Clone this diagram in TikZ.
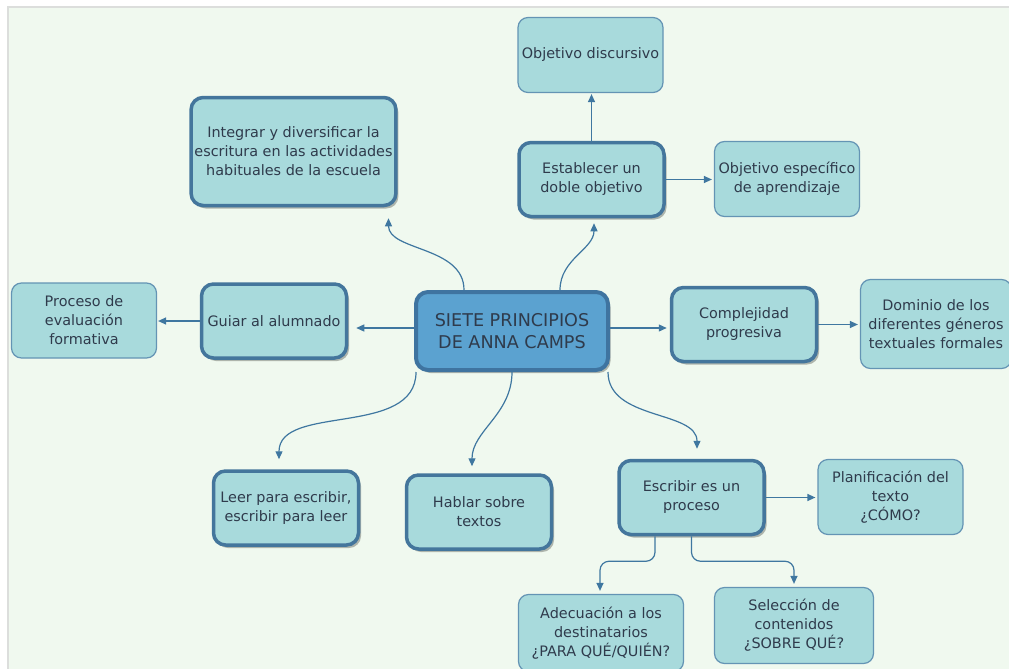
\documentclass[tikz,border=0pt]{standalone}
\usepackage{fontspec}
\setmainfont{DejaVu Sans}
\usepackage{xcolor}
\usepackage{tikz}
\usetikzlibrary{arrows.meta, positioning, shadows}
\definecolor{canvasbg}{HTML}{F0F9EF}
\definecolor{edgegray}{HTML}{DCDEDC}
\definecolor{boxfill}{HTML}{A8DADC}
\definecolor{topicline}{HTML}{44769C}
\definecolor{detailline}{HTML}{6494B4}
\definecolor{corefill}{HTML}{5BA2D0}
\definecolor{coreline}{HTML}{3F74A0}
\definecolor{textc}{HTML}{2F3B4C}
\definecolor{arrowc}{HTML}{3F77A0}
\definecolor{shadowc}{HTML}{AEB5AC}
\tikzset{
    topic/.style={rectangle, draw=topicline, line width=3.5pt, fill=boxfill, rounded corners=12pt, align=center, text=textc, font=\fontsize{14.4}{19}\selectfont, minimum width=145pt, minimum height=74pt, drop shadow={shadow xshift=2.5pt, shadow yshift=-3pt, fill=shadowc, opacity=1}},
    detail/.style={rectangle, draw=detailline, line width=1.2pt, fill=boxfill, rounded corners=10pt, align=center, text=textc, font=\fontsize{14.4}{19}\selectfont, minimum width=145pt, minimum height=75pt},
    core/.style={topic, draw=coreline, fill=corefill, line width=4pt, font=\fontsize{17.6}{22}\selectfont, minimum width=192pt, minimum height=78pt},
    arrow/.style={-{Triangle[length=8pt,width=7pt]}, line width=1.2pt, draw=arrowc}
}
\begin{document}
\begin{tikzpicture}[x=1pt, y=-1pt]
    \useasboundingbox (0,0) rectangle (1009,669);
    \fill [white] (0,0) rectangle (1009,669);
    \fill [canvasbg] (9,8) rectangle (1009,669);
    \draw [edgegray, line width=2pt] (8,669) -- (8,7) -- (1009,7);

    % centro
    \node [core] (camps) at (512,331) {SIETE PRINCIPIOS\\DE ANNA CAMPS};

    % principios
    \node [topic, minimum width=204pt, minimum height=108pt] (integrar) at (293.5,151.5) {Integrar y diversificar la\\escritura en las actividades\\habituales de la escuela};
    \node [topic] (doble) at (591.5,179.5) {Establecer un\\doble objetivo};
    \node [topic] (guiar) at (274,321) {Guiar al alumnado};
    \node [topic] (complej) at (744,324.5) {Complejidad\\progresiva};
    \node [topic] (leer) at (286,508) {Leer para escribir,\\escribir para leer};
    \node [topic] (hablar) at (479,512) {Hablar sobre\\textos};
    \node [topic] (proceso) at (691.5,497.5) {Escribir es un\\proceso};

    % detalles
    \node [detail] (discurs) at (590.5,55) {Objetivo discursivo};
    \node [detail] (especif) at (787,179) {Objetivo específico\\de aprendizaje};
    \node [detail] (evalua) at (84,320.5) {Proceso de\\evaluación\\formativa};
    \node [detail, minimum width=151pt, minimum height=89pt] (generos) at (936,324) {Dominio de los\\diferentes géneros\\textuales formales};
    \node [detail] (planif) at (890.5,497) {Planificación del\\texto\\¿CÓMO?};
    \node [detail, minimum width=165pt, minimum height=77pt] (adecua) at (601,633) {Adecuación a los\\destinatarios\\¿PARA QUÉ/QUIÉN?};
    \node [detail, minimum width=159pt, minimum height=76pt] (selecc) at (794,625.5) {Selección de\\contenidos\\¿SOBRE QUÉ?};

    % conectores
    \draw [arrow, shorten >=11pt] ([xshift=-48pt]camps.north) to [out=90, in=-90] ([xshift=95pt]integrar.south);
    \draw [arrow, shorten >=5pt] ([xshift=48pt]camps.north) to [out=90, in=-90] ([xshift=2.5pt]doble.south);
    \draw [arrow, shorten >=1pt] (doble.north) -- (doble.north |- discurs.south);
    \draw [arrow, shorten >=2pt] (doble.east) -- (doble.east -| especif.west);
    \draw [arrow, shorten >=8pt] ([yshift=3pt]camps.west) -- ([yshift=3pt]camps.west -| guiar.east);
    \draw [arrow, shorten >=1pt] (guiar.west) -- (guiar.west -| evalua.east);
    \draw [arrow, shorten >=3pt] ([yshift=3pt]camps.east) -- ([yshift=3pt]camps.east -| complej.west);
    \draw [arrow, shorten >=2pt] (complej.east) -- (complej.east -| generos.west);
    \draw [arrow, shorten >=10pt] ([xshift=-96pt]camps.south) to [out=-90, in=90] ([xshift=-7pt]leer.north);
    \draw [arrow, shorten >=7pt] (camps.south) to [out=-90, in=90] ([xshift=-7pt]hablar.north);
    \draw [arrow, shorten >=10pt] ([xshift=96pt]camps.south) to [out=-90, in=90] ([xshift=5.5pt]proceso.north);
    \draw [arrow, shorten >=2pt] (proceso.east) -- (proceso.east -| planif.west);
    \draw [arrow, rounded corners=9pt] ([xshift=-36.5pt]proceso.south) -- ++(0,25) -| ([xshift=-1pt, yshift=3pt]adecua.north);
    \draw [arrow, rounded corners=9pt] (proceso.south) -- ++(0,25) -| ([yshift=3pt]selecc.north);
\end{tikzpicture}
\end{document}
